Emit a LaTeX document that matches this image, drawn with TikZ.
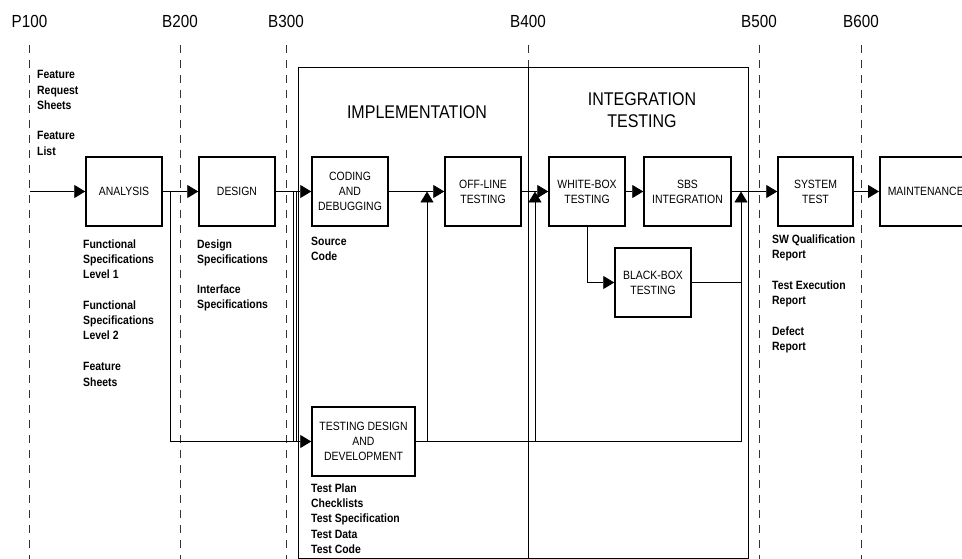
\documentclass[tikz,border=0pt]{standalone}
\usepackage{fontspec}
\setmainfont{Liberation Sans}[FakeStretch=0.87]
\usetikzlibrary{arrows.meta}

\begin{document}
\begin{tikzpicture}[x=1pt,y=-1pt,
  stage/.style={draw, fill=white, line width=1.5pt, minimum height=69pt,
    align=center, inner sep=0pt, font=\fontsize{12}{15}\selectfont},
  flow/.style={line width=0.9pt, -{Triangle[length=11pt,width=13pt]}},
  wire/.style={line width=0.9pt},
  frame/.style={line width=0.9pt},
  milestone/.style={dash pattern=on 8pt off 7pt, line width=0.9pt, black!80},
  mlabel/.style={font=\fontsize{17.5}{20}\selectfont},
  phase/.style={align=center, font=\fontsize{18.4}{22}\selectfont},
  note/.style={anchor=north west, align=left, inner sep=0pt,
    font=\bfseries\fontsize{12}{15.3}\selectfont}]

\useasboundingbox (0,0) rectangle (962,559);
\clip (0,0) rectangle (962,559);

% milestone lines and their labels
\foreach \name/\xx in {P100/29.5, B200/180, B300/286, B400/528, B500/759, B600/861}{
  \draw[milestone] (\xx,45) -- (\xx,559);
  \node[mlabel] (m-\name) at (\xx,21) {\name};
}

% phase frames
\draw[frame] (298,67) rectangle (528,558);
\draw[frame] (528,67) rectangle (748,558);
\node[phase] (impl) at (417,112) {IMPLEMENTATION};
\node[phase] (integ) at (642,110) {INTEGRATION\\TESTING};

% process steps
\node[stage, minimum width=76pt] (analysis) at (124,191.5) {ANALYSIS};
\node[stage, minimum width=76pt] (design) at (237,191.5) {DESIGN};
\node[stage, minimum width=76pt] (coding) at (350,191.5) {CODING\\AND\\DEBUGGING};
\node[stage, minimum width=76pt] (offline) at (483,191.5) {OFF-LINE\\TESTING};
\node[stage, minimum width=76pt] (whitebox) at (587,191.5) {WHITE-BOX\\TESTING};
\node[stage, minimum width=87pt] (sbs) at (687.5,191.5) {SBS\\INTEGRATION};
\node[stage, minimum width=75pt] (systest) at (815.5,191.5) {SYSTEM\\TEST};
\node[stage, minimum width=92pt, anchor=west] (maint) at (879,191.5) {MAINTENANCE};
\node[stage, minimum width=76pt] (blackbox) at (653,282.5) {BLACK-BOX\\TESTING};
\node[stage, minimum width=103pt] (testdes) at (363.5,441.5) {TESTING DESIGN\\AND\\DEVELOPMENT};

% junction points on the main flow
\coordinate (entry) at (29.5,191.5);
\coordinate (splitA) at (170,191.5);
\coordinate (splitB) at (293.5,191.5);
\coordinate (splitC) at (296,191.5);
\coordinate (feedA) at (427,191.5);
\coordinate (feedB) at (535,191.5);
\coordinate (feedC) at (741,191.5);
\coordinate (busend) at (741,441.5);

% main flow
\draw[flow] (entry) -- (analysis);
\draw[flow] (analysis) -- (design);
\draw[flow] (design) -- (coding);
\draw[flow] (coding) -- (offline);
\draw[flow] (offline) -- (whitebox);
\draw[flow] (whitebox) -- (sbs);
\draw[flow] (sbs) -- (systest);
\draw[flow] (systest) -- (maint);

% test design branch and feedback lines
\draw[flow] (splitA) |- (testdes.west);
\draw[wire] (splitB) -- (splitB |- testdes.west);
\draw[wire] (splitC) -- (splitC |- testdes.west);
\draw[wire] (testdes.east) -- (busend);
\draw[flow] (feedA |- testdes.east) -- (feedA);
\draw[flow] (feedB |- testdes.east) -- (feedB);
\draw[flow] (busend) -- (feedC);
\draw[flow] (whitebox.south) |- (blackbox.west);
\draw[wire] (blackbox.east) -- (blackbox.east -| feedC);

% deliverables
\node[note] (n1) at (37,70.5) {Feature\\Request\\Sheets};
\node[note] (n2) at (37,131.5) {Feature\\List};
\node[note] (n3) at (83,239.5) {Functional\\Specifications\\Level 1};
\node[note] (n4) at (83,300.5) {Functional\\Specifications\\Level 2};
\node[note] (n5) at (83,362.5) {Feature\\Sheets};
\node[note] (n6) at (197,239.5) {Design\\Specifications};
\node[note] (n7) at (197,284.5) {Interface\\Specifications};
\node[note] (n8) at (311,236.5) {Source\\Code};
\node[note] (n9) at (311,483.5) {Test Plan\\Checklists\\Test Specification\\Test Data\\Test Code};
\node[note] (n10) at (772,234.5) {SW Qualification\\Report};
\node[note] (n11) at (772,280.5) {Test Execution\\Report};
\node[note] (n12) at (772,326.5) {Defect\\Report};
\end{tikzpicture}
\end{document}
